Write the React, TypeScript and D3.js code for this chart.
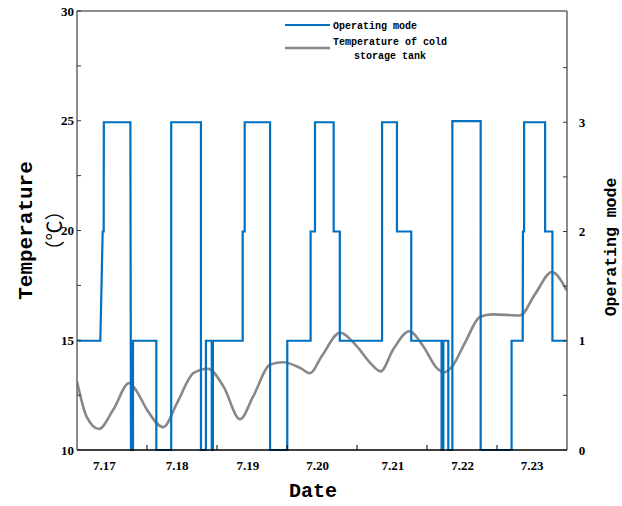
import React from "react";
import * as d3 from "d3";

// ---- data ----
const dayLabels = ["7.17", "7.18", "7.19", "7.20", "7.21", "7.22", "7.23"];
const dayLabelHours = [9.4, 34.3, 58.6, 82.5, 108.3, 132.2, 156.0];
const dayBoundaryHours = [24, 48, 72, 96, 120, 144];

const tempTicks = [10, 15, 20, 25, 30];
const tempMinorTicks = [12.5, 17.5, 22.5, 27.5];
const modeTicks = [0, 1, 2, 3];
const modeMinorTicks = [0.5, 1.5, 2.5, 3.5];

// Operating mode (step series): hours and mode values
const modeHours = [
  0, 8.0, 8.8, 9.15, 9.2, 18.3, 18.5, 19.2, 19.2, 27.2, 27.2, 32.3, 32.3, 42.5, 42.5,
  44.2, 44.2, 46.2, 46.2, 46.6, 46.6, 56.8, 56.8, 57.5, 57.5, 66.2, 66.2, 72.1, 72.1,
  80.1, 80.1, 81.6, 81.6, 88.0, 88.0, 90.1, 90.1, 104.6, 104.6, 109.7, 109.7, 114.6,
  114.6, 125.0, 125.0, 125.6, 125.6, 127.3, 127.3, 128.7, 128.7, 138.4, 138.4, 149.0,
  149.0, 152.8, 152.9, 153.3, 153.3, 160.5, 160.5, 163.0, 163.0, 168,
];
const modeValues = [
  1, 1, 2, 2, 3, 3, 0, 0, 1, 1, 0, 0, 3, 3, 0,
  0, 1, 1, 0, 0, 1, 1, 2, 2, 3, 3, 0, 0, 1,
  1, 2, 2, 3, 3, 2, 2, 1, 1, 3, 3, 2, 2,
  1, 1, 0, 0, 1, 1, 0, 0, 3.01, 3.01, 0, 0,
  1, 1, 2, 2, 3, 3, 2, 2, 1, 1,
];

// Temperature of cold storage tank
const tempHours = [
  0, 3.3, 7.5, 12.4, 17.9, 20.5, 24, 29.6, 34.3, 40, 44.9, 50.2, 55.9, 60.4, 66.2,
  70.7, 76.5, 79.9, 83.9, 90.2, 95.9, 100.5, 104.1, 108.4, 113.9, 118.7, 123.3,
  125.8, 128.6, 133.0, 138.2, 142.3, 151.9, 157.0, 162.8, 168,
];
const tempValues = [
  13.12, 11.52, 10.96, 11.83, 13.05, 12.67, 11.83, 11.04, 12.14, 13.51, 13.7, 12.9,
  11.4, 12.44, 13.89, 14.0, 13.74, 13.5, 14.27, 15.34, 14.73, 13.97, 13.58, 14.58,
  15.41, 14.73, 13.74, 13.54, 13.8, 14.88, 16.07, 16.18, 16.13, 17.09, 18.11, 17.25,
];

// ---- layout ----
const W = 622;
const H = 506;
const left = 77;
const right = 567;
const top = 11;
const bottom = 450;

const BLUE = "#0070C0";
const GRAY = "#888888";
const FRAME = "#666666";
const tickFont = "'Liberation Serif', 'Times New Roman', serif";
const monoFont = "'Liberation Mono', 'DejaVu Sans Mono', monospace";

export default function App() {
  const x = d3.scaleLinear().domain([0, 168]).range([left, right]);
  const yT = d3.scaleLinear().domain([10, 30]).range([bottom, top]);
  const yM = d3.scaleLinear().domain([0, 4]).range([bottom, 13]);

  const modePts: [number, number][] = modeHours.map((h, i) => [h, modeValues[i]]);
  const tempPts: [number, number][] = tempHours.map((h, i) => [h, tempValues[i]]);

  const modeLine = d3
    .line<[number, number]>()
    .x((d) => x(d[0]))
    .y((d) => yM(d[1]))(modePts) as string;
  const tempLine = d3
    .line<[number, number]>()
    .x((d) => x(d[0]))
    .y((d) => yT(d[1]))
    .curve(d3.curveMonotoneX)(tempPts) as string;

  return (
    <svg
      width={W}
      height={H}
      style={{ position: "absolute", left: 0, top: 0, background: "#fff" }}
    >
      <defs>
        <clipPath id="plot">
          <rect x={left} y={top - 2} width={right - left} height={bottom - top + 4} />
        </clipPath>
      </defs>

      {/* data */}
      <g clipPath="url(#plot)">
        <path d={tempLine} fill="none" stroke={GRAY} strokeWidth={2.6} />
        <path d={modeLine} fill="none" stroke={BLUE} strokeWidth={2.2} strokeLinejoin="miter" />
      </g>

      {/* frame */}
      <line x1={left} x2={right} y1={top} y2={top} stroke={FRAME} strokeWidth={1.5} />
      <line x1={left} x2={left} y1={top} y2={bottom} stroke={FRAME} strokeWidth={1.5} />
      <line x1={right} x2={right} y1={top} y2={bottom} stroke={FRAME} strokeWidth={1.5} />
      <line x1={left} x2={right} y1={bottom} y2={bottom} stroke="#000" strokeWidth={1.5} />

      {/* left axis ticks */}
      {tempTicks.concat(tempMinorTicks).map((t) => (
        <line key={"lt" + t} x1={left} x2={left + 4} y1={yT(t)} y2={yT(t)} stroke="#333" strokeWidth={1} />
      ))}
      {tempTicks.map((t) => (
        <text
          key={"ll" + t}
          x={left - 3}
          y={yT(t)}
          dy="0.35em"
          textAnchor="end"
          fontFamily={tickFont}
          fontWeight="bold"
          fontSize={13}
        >
          {t}
        </text>
      ))}

      {/* right axis ticks */}
      {modeTicks.concat(modeMinorTicks).map((t) => (
        <line key={"rt" + t} x1={right - 4} x2={right} y1={yM(t)} y2={yM(t)} stroke="#333" strokeWidth={1} />
      ))}
      {modeTicks.map((t) => (
        <text
          key={"rl" + t}
          x={right + 15}
          y={yM(t)}
          dy="0.35em"
          textAnchor="middle"
          fontFamily={tickFont}
          fontWeight="bold"
          fontSize={13}
        >
          {t}
        </text>
      ))}

      {/* bottom ticks */}
      {dayBoundaryHours.map((h) => (
        <line key={"bt" + h} x1={x(h)} x2={x(h)} y1={bottom} y2={bottom - 5} stroke="#000" strokeWidth={1} />
      ))}
      {dayLabels.map((l, i) => (
        <text
          key={"bl" + l}
          x={x(dayLabelHours[i])}
          y={469.5}
          textAnchor="middle"
          fontFamily={tickFont}
          fontWeight="bold"
          fontSize={13}
        >
          {l}
        </text>
      ))}

      {/* axis titles */}
      <text
        transform={`translate(32, ${(top + bottom) / 2}) rotate(-90)`}
        textAnchor="middle"
        fontFamily={monoFont}
        fontWeight="bold"
        fontSize={21}
      >
        Temperature
      </text>
      <text
        transform={`translate(62, ${(top + bottom) / 2}) rotate(-90)`}
        textAnchor="middle"
        fontFamily="'Noto Sans CJK SC', sans-serif"
        fontSize={20}
      >
        （℃）
      </text>
      <text
        x={313}
        y={497}
        textAnchor="middle"
        fontFamily={monoFont}
        fontWeight="bold"
        fontSize={20}
      >
        Date
      </text>
      <text
        transform={`translate(616, 247) rotate(-90)`}
        textAnchor="middle"
        fontFamily={monoFont}
        fontWeight="bold"
        fontSize={16.5}
      >
        Operating mode
      </text>

      {/* legend */}
      <line x1={285} x2={330} y1={25} y2={25} stroke={BLUE} strokeWidth={2.2} />
      <text x={333} y={25} dy="0.35em" fontFamily={monoFont} fontWeight="bold" fontSize={10}>
        Operating mode
      </text>
      <line x1={285} x2={330} y1={48} y2={48} stroke={GRAY} strokeWidth={2.6} />
      <text x={390} y={41} dy="0.35em" textAnchor="middle" fontFamily={monoFont} fontWeight="bold" fontSize={10}>
        Temperature of cold
      </text>
      <text x={390} y={55} dy="0.35em" textAnchor="middle" fontFamily={monoFont} fontWeight="bold" fontSize={10}>
        storage tank
      </text>
    </svg>
  );
}
